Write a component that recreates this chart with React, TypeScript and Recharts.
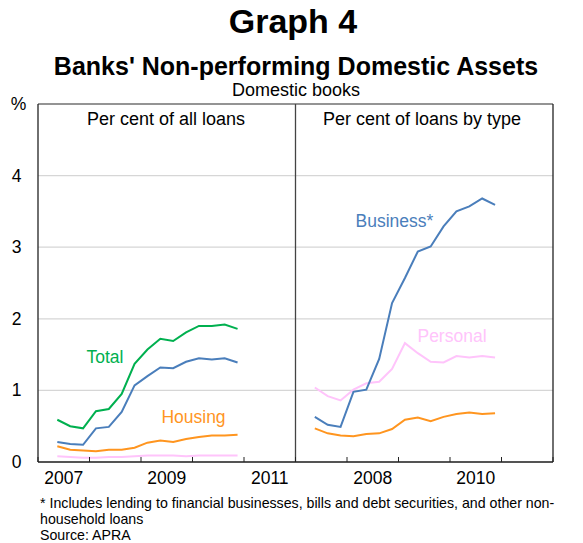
import React from 'react';
import { LineChart, Line, XAxis, YAxis, CartesianGrid, ReferenceLine } from 'recharts';

// Quarter-end dates of observations
const quarters = ['Jun 2007', 'Sep 2007', 'Dec 2007', 'Mar 2008', 'Jun 2008', 'Sep 2008', 'Dec 2008', 'Mar 2009', 'Jun 2009', 'Sep 2009', 'Dec 2009', 'Mar 2010', 'Jun 2010', 'Sep 2010', 'Dec 2010'];

// Left panel: per cent of all loans
const totalAll = [0.59, 0.5, 0.47, 0.71, 0.74, 0.95, 1.37, 1.57, 1.72, 1.69, 1.81, 1.9, 1.9, 1.92, 1.86];
const businessAll = [0.28, 0.25, 0.24, 0.47, 0.49, 0.7, 1.07, 1.2, 1.32, 1.31, 1.4, 1.45, 1.43, 1.45, 1.39];
const housingAll = [0.22, 0.17, 0.16, 0.15, 0.17, 0.17, 0.2, 0.27, 0.3, 0.28, 0.32, 0.35, 0.37, 0.37, 0.38];
const personalAll = [0.08, 0.07, 0.06, 0.06, 0.07, 0.07, 0.08, 0.09, 0.09, 0.09, 0.08, 0.09, 0.09, 0.09, 0.09];

// Right panel: per cent of loans by type
const businessType = [0.63, 0.52, 0.49, 0.98, 1.01, 1.44, 2.22, 2.57, 2.94, 3.01, 3.29, 3.5, 3.57, 3.68, 3.59];
const personalType = [1.04, 0.92, 0.86, 1.01, 1.1, 1.12, 1.3, 1.66, 1.52, 1.4, 1.39, 1.48, 1.46, 1.48, 1.46];
const housingType = [0.47, 0.4, 0.37, 0.36, 0.39, 0.4, 0.46, 0.59, 0.62, 0.57, 0.63, 0.67, 0.69, 0.67, 0.68];

const yTicks = [0, 1, 2, 3, 4, 5];
const yearTicks = [2007, 2008, 2009, 2010, 2011, 2012, 2013, 2014, 2015, 2016, 2017];
const PANEL_OFFSET = 5; // right panel shifted by 5 years on the shared axis

const MONTHS: Record<string, number> = { Mar: 3, Jun: 6, Sep: 9, Dec: 12 };
const toX = (q: string) => {
  const [m, y] = q.split(' ');
  return Number(y) + (MONTHS[m] - 1.5) / 12;
};

const data = [
  ...quarters.map((q, i) => ({
    x: toX(q),
    totalAll: totalAll[i],
    businessAll: businessAll[i],
    housingAll: housingAll[i],
    personalAll: personalAll[i],
  })),
  ...quarters.map((q, i) => ({
    x: toX(q) + PANEL_OFFSET,
    businessType: businessType[i],
    personalType: personalType[i],
    housingType: housingType[i],
  })),
];

const W = 583;
const H = 543;
const CHART_H = 500;
const LEFT_W = 38;
const RIGHT_W = 30;
const TOP = 104;
const XAXIS_H = 38;
const YEAR_PX = (W - LEFT_W - RIGHT_W) / 10;

const FONT = '"Liberation Sans", Arial, sans-serif';
const GREEN = '#00b04f';
const BLUE = '#4a7ebb';
const ORANGE = '#ff951f';
const PINK = '#ffc4fb';
const AXIS = '#222';

const XTick = (props: any) => {
  const { x, y, payload } = props;
  const t = payload.value as number;
  const d = t < 2012 ? t : t - PANEL_OFFSET;
  const show = t < 2017 && ((t < 2012 && d % 2 === 1) || (t >= 2012 && d % 2 === 0));
  return (
    <g>
      <line x1={x} x2={x} y1={y} y2={y - 5} stroke={AXIS} strokeWidth={1} />
      {show && (
        <text x={x + YEAR_PX / 2} y={y + 22} textAnchor="middle" fontSize={17.5} fontFamily={FONT} fill="#000">
          {d}
        </text>
      )}
    </g>
  );
};

const YTick = (props: any) => {
  const { x, y, payload, side } = props;
  const v = payload.value as number;
  const label = v === 5 ? '%' : String(v);
  const dx = v === 5 ? (side === 'left' ? 2 : -1) : 0;
  return (
    <text x={x + dx} y={y + 6} textAnchor="middle" fontSize={17.5} fontFamily={FONT} fill="#000">
      {label}
    </text>
  );
};

export default function App() {
  return (
    <div style={{ position: 'absolute', left: 0, top: 0, width: W, height: H, background: '#fff', fontFamily: FONT }}>
      <div style={{ position: 'absolute', left: 0, top: 0 }}>
        <LineChart width={W} height={CHART_H} data={data} margin={{ top: TOP, right: 0, bottom: 0, left: 0 }}>
          <CartesianGrid vertical={false} stroke="#d6d6d6" strokeWidth={1.2} yAxisId="l" xAxisId="b" />
          <XAxis
            xAxisId="b"
            type="number"
            dataKey="x"
            domain={[2007, 2017]}
            ticks={yearTicks}
            interval={0}
            tick={<XTick />}
            tickLine={false}
            tickSize={0}
            tickMargin={0}
            axisLine={{ stroke: AXIS, strokeWidth: 1.3 }}
            height={XAXIS_H}
            allowDataOverflow
          />
          <YAxis
            yAxisId="l"
            orientation="left"
            domain={[0, 5]}
            ticks={yTicks}
            interval={0}
            width={LEFT_W}
            tickLine={false}
            tickSize={0}
            tickMargin={21.5}
            axisLine={{ stroke: AXIS, strokeWidth: 1.3 }}
            tick={<YTick side="left" />}
          />
          <YAxis
            yAxisId="r"
            orientation="right"
            domain={[0, 5]}
            ticks={yTicks}
            interval={0}
            width={RIGHT_W}
            tickLine={false}
            tickSize={0}
            tickMargin={19.5}
            axisLine={{ stroke: AXIS, strokeWidth: 1.3 }}
            tick={<YTick side="right" />}
          />
          <ReferenceLine y={5} yAxisId="l" xAxisId="b" stroke="#777" strokeWidth={1.3} />
          <ReferenceLine x={2012} yAxisId="l" xAxisId="b" stroke="#444" strokeWidth={1.3} />
          <Line xAxisId="b" yAxisId="l" dataKey="personalAll" stroke={PINK} strokeWidth={2} dot={false} isAnimationActive={false} />
          <Line xAxisId="b" yAxisId="l" dataKey="housingAll" stroke={ORANGE} strokeWidth={2} dot={false} isAnimationActive={false} />
          <Line xAxisId="b" yAxisId="l" dataKey="businessAll" stroke={BLUE} strokeWidth={2} dot={false} isAnimationActive={false} />
          <Line xAxisId="b" yAxisId="l" dataKey="totalAll" stroke={GREEN} strokeWidth={2} dot={false} isAnimationActive={false} />
          <Line xAxisId="b" yAxisId="l" dataKey="personalType" stroke={PINK} strokeWidth={2} dot={false} isAnimationActive={false} />
          <Line xAxisId="b" yAxisId="l" dataKey="housingType" stroke={ORANGE} strokeWidth={2} dot={false} isAnimationActive={false} />
          <Line xAxisId="b" yAxisId="l" dataKey="businessType" stroke={BLUE} strokeWidth={2} dot={false} isAnimationActive={false} />
        </LineChart>
      </div>
      <svg width={W} height={H} style={{ position: 'absolute', left: 0, top: 0, pointerEvents: 'none' }} fontFamily={FONT}>
        <text x={293} y={33} textAnchor="middle" fontSize={34} fontWeight="bold" fill="#000">Graph 4</text>
        <text x={296} y={75} textAnchor="middle" fontSize={25} fontWeight="bold" fill="#000">Banks' Non-performing Domestic Assets</text>
        <text x={296} y={95.5} textAnchor="middle" fontSize={18} fill="#000">Domestic books</text>
        <text x={166} y={125} textAnchor="middle" fontSize={18} fill="#000">Per cent of all loans</text>
        <text x={422} y={125} textAnchor="middle" fontSize={18} fill="#000">Per cent of loans by type</text>
        <text x={105} y={363} textAnchor="middle" fontSize={17.5} fill={GREEN}>Total</text>
        <text x={193.5} y={423} textAnchor="middle" fontSize={17.5} fill={ORANGE}>Housing</text>
        <text x={394.5} y={227} textAnchor="middle" fontSize={17.5} fill={BLUE}>Business*</text>
        <text x={452} y={342} textAnchor="middle" fontSize={17.5} fill={PINK}>Personal</text>
        <text x={40} y={508} fontSize={14.2} fill="#000">* Includes lending to financial businesses, bills and debt securities, and other non-</text>
        <text x={40} y={524} fontSize={14.2} fill="#000">household loans</text>
        <text x={40} y={540} fontSize={14.2} fill="#000">Source: APRA</text>
      </svg>
    </div>
  );
}
